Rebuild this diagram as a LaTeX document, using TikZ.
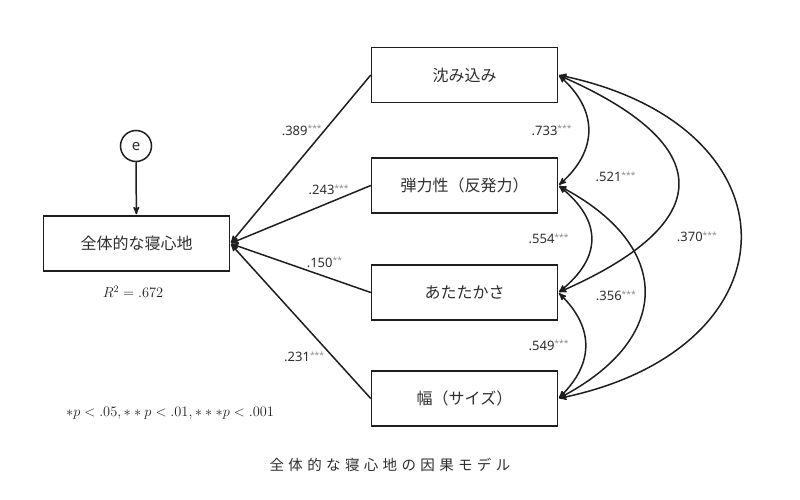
\documentclass[tikz,border=0pt]{standalone}
\usepackage{fontspec}
\setmainfont{Noto Sans}
\newfontfamily\jpfont{Noto Sans CJK JP}
\newfontfamily\capfont[LetterSpace=30]{Noto Sans CJK JP}
\usetikzlibrary{arrows,shapes,calc}
\definecolor{ink}{HTML}{1E1E1E}
\definecolor{txt}{HTML}{2E2E2E}
\definecolor{stargray}{HTML}{8A8A8A}
\newcommand{\est}[2]{#1\raisebox{3.5pt}{\fontsize{8.5}{8.5}\selectfont\color{stargray}#2}}
\tikzset{
    >=stealth',
    shorten >=1pt,
    var/.style={draw=ink,line width=1.5pt,minimum width=186pt,minimum height=55pt,
        font=\jpfont\fontsize{16}{16}\selectfont,text=txt},
    err/.style={draw=ink,line width=1.5pt,circle,minimum size=31pt,inner sep=0pt,
        font=\fontsize{15}{15}\selectfont,text=txt},
    reg/.style={draw=ink,line width=1.5pt,->},
    cov/.style={draw=ink,line width=1.5pt,<->,shorten <=1pt},
    coef/.style={font=\fontsize{13}{13}\selectfont,text=txt,inner sep=2pt},
}

\begin{document}
\begin{tikzpicture}[x=1pt,y=-1pt]
    \useasboundingbox (0,0) rectangle (800,500);
    % variables
    \node[var] (Y) at (136.5,243.5) {全体的な寝心地};
    \node[err] (E) at (136,146) {e};
    \node[var] (X1) at (464.5,75) {沈み込み};
    \node[var] (X2) at (464.5,185.5) {弾力性（反発力）};
    \node[var] (X3) at (464.5,292.5) {あたたかさ};
    \node[var] (X4) at (464.5,398.5) {幅（サイズ）};
    \node[text=ink] (R) at (133,292) {\Large $R^2 = .672$};

    % paths
    \draw[reg] (E) -- (Y);
    \draw[reg] (X1.west) -- node[coef,pos=0.33,left] {\est{.389}{***}} (Y.east);
    \draw[reg] (X2.west) -- node[coef,pos=0.3,above=5pt] {\est{.243}{***}} (Y.east);
    \draw[reg] (X3.west) -- node[coef,pos=0.33,above=6pt] {\est{.150}{**}} (Y.east);
    \draw[reg] (X4.west) -- node[coef,pos=0.27,left=6pt] {\est{.231}{***}} (Y.east);

    % covariances
    \draw[cov] (X1.east) .. controls +(40,35) and +(40,-35) .. node[coef,left=14pt] {\est{.733}{***}} (X2.east);
    \draw[cov] (X2.east) .. controls +(44,35) and +(44,-35) .. node[coef,left=20pt] {\est{.554}{***}} (X3.east);
    \draw[cov] (X3.east) .. controls +(36,35) and +(36,-35) .. node[coef,left=14pt] {\est{.549}{***}} (X4.east);
    \draw[cov] (X1.east) .. controls +(160,70) and +(160,-70) .. node[coef,left=40pt,yshift=7pt] {\est{.521}{***}} (X3.east);
    \draw[cov] (X2.east) .. controls +(115,60) and +(115,-60) .. node[coef,left=6pt,yshift=-4pt] {\est{.356}{***}} (X4.east);
    \draw[cov] (X1.east) .. controls +(243,50) and +(243,-50) .. node[coef,left=21pt] {\est{.370}{***}} (X4.east);

    \node[text=ink] (N) at (170,413) {\Large $\ast p < .05, \ast\ast p < .01, \ast\ast\ast p < .001$};
    \node[text=txt] (T) at (390,465) {\capfont\fontsize{14.5}{14.5}\selectfont 全体的な寝心地の因果モデル};
\end{tikzpicture}
\end{document}
